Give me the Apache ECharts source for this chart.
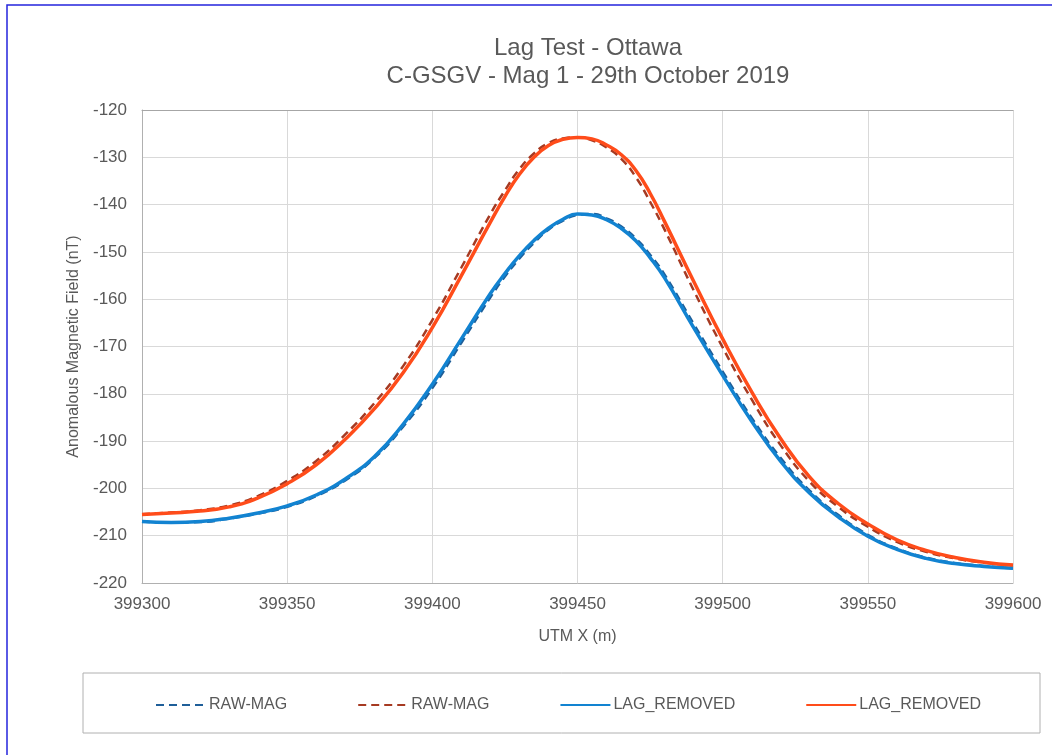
<!DOCTYPE html>
<html>
<head>
<meta charset="utf-8">
<script src="https://cdn.jsdelivr.net/npm/echarts@6/dist/echarts.min.js"></script>
<style>html,body{margin:0;padding:0;background:#fff;}#c{width:1052px;height:755px;}</style>
</head>
<body>
<div id="c"></div>
<script>
var xValues = [399300,399310,399320,399330,399340,399350,399360,399370,399380,399390,399400,399410,399420,399425,399430,399435,399440,399445,399450,399455,399460,399465,399470,399475,399480,399490,399500,399510,399520,399530,399540,399550,399560,399570,399580,399590,399600];
var rawMagBlue = [-207.0,-207.2,-207.1,-206.4,-205.3,-203.9,-201.6,-198.3,-193.6,-186.9,-178.8,-169.2,-159.6,-155.2,-151.4,-148.1,-145.3,-143.4,-142.2,-142.0,-142.9,-144.6,-147.1,-150.6,-154.8,-165.2,-175.3,-185.1,-193.6,-200.5,-205.7,-209.8,-212.7,-214.6,-215.8,-216.4,-216.9];
var rawMagRed = [-205.45,-205.1,-204.6,-203.6,-201.6,-198.4,-194.2,-188.6,-182.0,-174.1,-164.4,-153.3,-142.0,-137.0,-132.5,-129.2,-127.0,-126.0,-125.8,-126.4,-127.9,-130.3,-134.1,-139.4,-145.3,-158.1,-170.2,-181.2,-190.9,-198.6,-204.0,-208.1,-211.3,-213.4,-214.8,-215.7,-216.3];
var lagRemovedBlue = [-207.0,-207.2,-207.0,-206.3,-205.2,-203.7,-201.4,-198.0,-193.3,-186.4,-178.0,-168.4,-158.8,-154.6,-150.8,-147.6,-145.0,-143.1,-142.0,-142.2,-143.2,-145.0,-147.6,-151.2,-155.5,-166.0,-176.1,-185.8,-194.3,-201.0,-206.1,-210.1,-212.9,-214.8,-215.9,-216.5,-216.9];
var lagRemovedRed = [-205.5,-205.2,-204.8,-203.9,-202.0,-199.0,-195.0,-189.6,-183.2,-175.5,-166.0,-155.0,-143.7,-138.3,-133.6,-130.0,-127.5,-126.2,-125.8,-126.1,-127.4,-129.4,-132.7,-137.6,-143.6,-156.2,-168.4,-179.6,-189.5,-197.6,-203.3,-207.5,-210.9,-213.1,-214.6,-215.6,-216.2];
var seriesNames = ['RAW-MAG','RAW-MAG ','LAG_REMOVED','LAG_REMOVED '];

function pairs(ys){ return xValues.map(function(x,i){ return [x, ys[i]]; }); }

var chart = echarts.init(document.getElementById('c'), null, {renderer:'canvas'});
var font = '"Liberation Sans", Arial, sans-serif';
var txt = '#595959';
chart.setOption({
  animation:false,
  backgroundColor:'#fff',
  title:{
    text:'Lag Test - Ottawa\nC-GSGV - Mag 1 - 29th October 2019',
    left:583, top:29, textAlign:'center',
    textStyle:{fontFamily:font, fontSize:24, fontWeight:'normal', color:txt, lineHeight:28}
  },
  graphic:[
    {type:'rect', shape:{x:7, y:5, width:1200, height:900}, style:{fill:'none', stroke:'#2525dd', lineWidth:1.5}, silent:true},
    {type:'rect', shape:{x:83, y:673, width:957, height:60}, style:{fill:'none', stroke:'#b0b0b0', lineWidth:1}, silent:true}
  ],
  legend:{
    data:seriesNames,
    left:150, top:692,
    itemWidth:50, itemHeight:14, itemGap:70,
    formatter:function(n){ return n.trim(); },
    itemStyle:{opacity:0},
    textStyle:{fontFamily:font, fontSize:16, color:txt, padding:[0,0,0,-2]}
  },
  grid:{left:142, right:39, top:110, bottom:172, containLabel:false},
  xAxis:[{
    type:'value', min:399300, max:399600, interval:50,
    name:'UTM X (m)', nameLocation:'middle', nameGap:46,
    nameTextStyle:{fontFamily:font, fontSize:16, color:txt},
    axisLine:{show:true, lineStyle:{color:'#b0b0b0', width:1}},
    axisTick:{show:false},
    axisLabel:{fontFamily:font, fontSize:17, color:txt, margin:13, formatter:function(v){return String(v);}},
    splitLine:{show:true, lineStyle:{color:'#d9d9d9', width:1}}
  },{
    type:'value', position:'top', min:399300, max:399600, interval:50,
    axisLine:{show:true, onZero:false, lineStyle:{color:'#a6a6a6', width:1}},
    axisTick:{show:false}, axisLabel:{show:false}, splitLine:{show:false}
  }],
  yAxis:{
    type:'value', min:-220, max:-120, interval:10,
    name:'Anomalous Magnetic Field (nT)', nameLocation:'middle', nameGap:59, nameRotate:90,
    nameTextStyle:{fontFamily:font, fontSize:16, color:txt},
    axisLine:{show:true, onZero:false, lineStyle:{color:'#b0b0b0', width:1}},
    axisTick:{show:false},
    axisLabel:{fontFamily:font, fontSize:17, color:txt, margin:15},
    splitLine:{show:true, lineStyle:{color:'#d9d9d9', width:1}}
  },
  series:[
    {name:seriesNames[0], type:'line', data:pairs(rawMagBlue), smooth:0.5, symbol:'none', z:2,
     lineStyle:{color:'#1f5f99', width:2.5, type:[8,5]}, itemStyle:{color:'#1f5f99'}},
    {name:seriesNames[1], type:'line', data:pairs(rawMagRed), smooth:0.5, symbol:'none', z:2,
     lineStyle:{color:'#a63a22', width:2.5, type:[8,5]}, itemStyle:{color:'#a63a22'}},
    {name:seriesNames[2], type:'line', data:pairs(lagRemovedBlue), smooth:0.5, symbol:'none', z:3,
     lineStyle:{color:'#1283d1', width:3.5}, itemStyle:{color:'#1283d1'}},
    {name:seriesNames[3], type:'line', data:pairs(lagRemovedRed), smooth:0.5, symbol:'none', z:3,
     lineStyle:{color:'#ff4c1a', width:3.5}, itemStyle:{color:'#ff4c1a'}}
  ]
});
</script>
</body>
</html>
